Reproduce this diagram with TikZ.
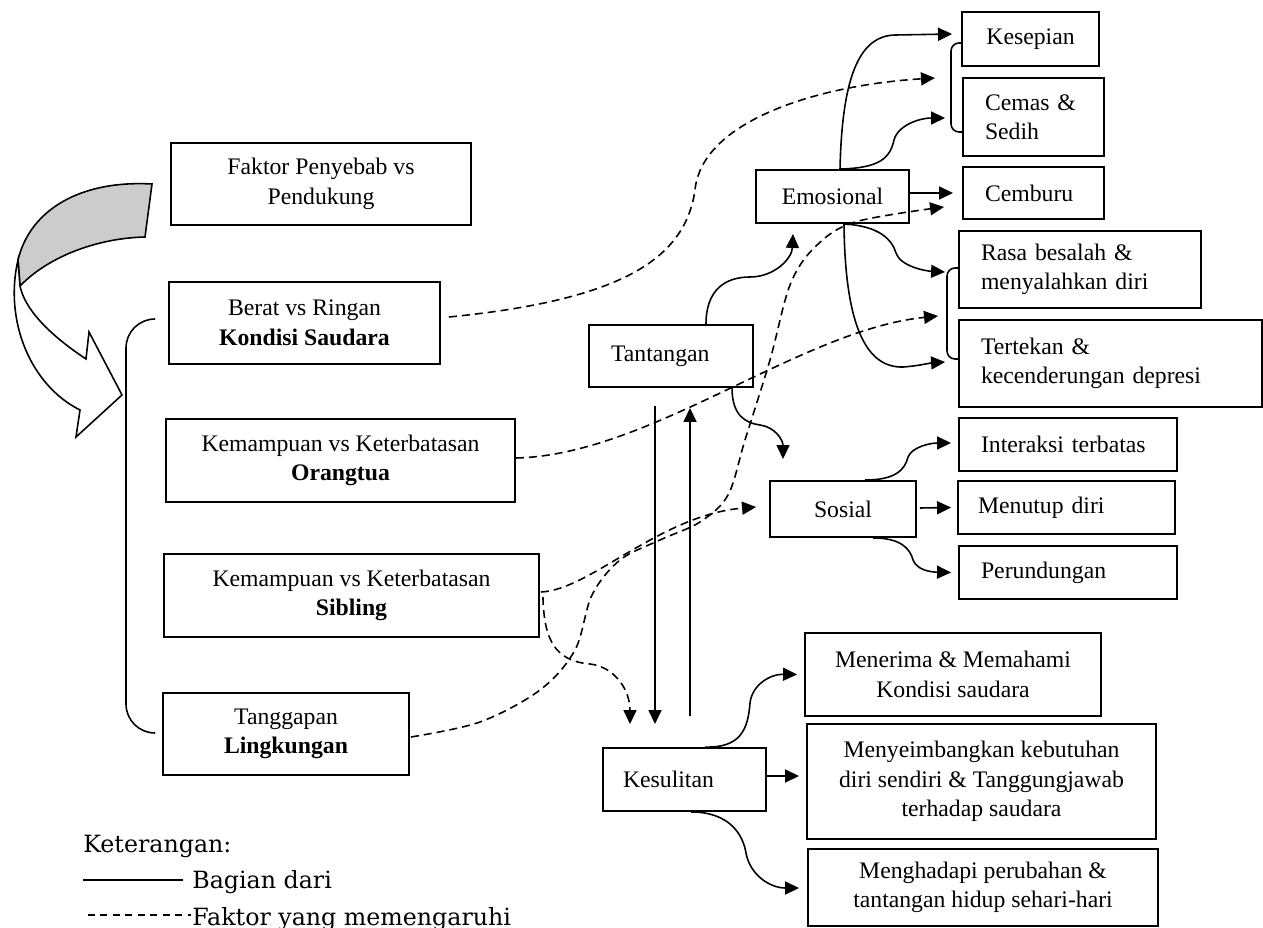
\documentclass[tikz,border=0pt]{standalone}
\usepackage{fontspec}
\setmainfont{Liberation Serif}
\newfontfamily\legfont{DejaVu Serif}
\usetikzlibrary{arrows.meta,calc}
\tikzset{
  box/.style={draw, line width=1.1pt, inner sep=0pt, align=center, font=\fontsize{13.5}{16.8}\selectfont},
  lbox/.style={box, align=left, inner xsep=0.44cm},
  conn/.style={line width=0.9pt, -{Triangle[length=0.28cm,width=0.26cm]}},
  dconn/.style={conn, dash pattern=on 0.16cm off 0.1cm},
  brk/.style={line width=0.9pt},
  leg/.style={inner sep=0pt, font=\legfont\fontsize{13.5}{16}\selectfont},
}
\begin{document}
\begin{tikzpicture}[x=0.02cm, y=-0.02cm]
\useasboundingbox (0,0) rectangle (1263,928);

% big curved arrow
\filldraw[line width=0.9pt, fill=gray!40] (152,184) .. controls (80,180) and (30,210) .. (18,260) -- (20,286) .. controls (50,255) and (100,238) .. (145,237) -- cycle;
\filldraw[line width=0.9pt, fill=white] (18,260) .. controls (4,320) and (30,385) .. (80,410) -- (76,437) -- (122,395) -- (89,332) -- (86,359) .. controls (50,335) and (25,310) .. (20,286) -- cycle;

% left boxes
\node[box, minimum width=6.0cm, minimum height=1.64cm] (faktor) at (321,184) {Faktor Penyebab vs\\Pendukung};
\node[box, minimum width=5.42cm, minimum height=1.64cm] (berat) at (304.5,323) {Berat vs Ringan\\\textbf{Kondisi Saudara}};
\node[box, minimum width=6.98cm, minimum height=1.66cm] (ortu) at (340.5,460.5) {Kemampuan vs Keterbatasan\\\textbf{Orangtua}};
\node[box, minimum width=7.5cm, minimum height=1.66cm] (sib) at (351.5,595.5) {Kemampuan vs Keterbatasan\\\textbf{Sibling}};
\node[box, minimum width=4.92cm, minimum height=1.64cm] (tang) at (286,734) {Tanggapan\\\textbf{Lingkungan}};

% left bracket
\draw[brk, rounded corners=0.58cm] (155,319) -- (126,319) -- (126,733) -- (155,733);

% middle boxes
\node[lbox, text width=2.4cm, minimum height=1.24cm] (tant) at (671,356) {Tantangan};
\node[box, minimum width=3.06cm, minimum height=1.06cm] (emo) at (832.5,196.5) {Emosional};
\node[box, minimum width=2.92cm, minimum height=1.12cm] (sos) at (843,509) {Sosial};
\node[lbox, inner xsep=0.4cm, text width=2.46cm, minimum height=1.26cm] (kesul) at (684.5,779.5) {Kesulitan};

% right boxes
\node[box, minimum width=2.74cm, minimum height=1.08cm] (kesep) at (1030.5,39) {Kesepian};
\node[lbox, text width=1.94cm, minimum height=1.56cm] (cemas) at (1033.5,117) {Cemas \&\\Sedih};
\node[lbox, text width=1.94cm, minimum height=1.04cm] (cembu) at (1033.5,193) {Cemburu};
\node[lbox, text width=3.96cm, minimum height=1.54cm] (rasa) at (1080,269.5) {Rasa besalah \&\\menyalahkan diri};
\node[lbox, text width=5.18cm, minimum height=1.74cm] (terte) at (1110.5,363.5) {Tertekan \&\\kecenderungan depresi};
\node[lbox, text width=3.48cm, minimum height=1.06cm] (inter) at (1068,444.5) {Interaksi terbatas};
\node[lbox, inner xsep=0.4cm, text width=3.54cm, minimum height=1.06cm] (menut) at (1066.5,507.5) {Menutup diri};
\node[lbox, text width=3.48cm, minimum height=1.06cm] (perun) at (1068,572.5) {Perundungan};
\node[box, minimum width=5.92cm, minimum height=1.66cm] (mener) at (953,674.5) {Menerima \& Memahami\\Kondisi saudara};
\node[box, minimum width=6.98cm, minimum height=2.3cm] (menye) at (981.5,781.5) {Menyeimbangkan kebutuhan\\diri sendiri \& Tanggungjawab\\terhadap saudara};
\node[box, minimum width=7.0cm, minimum height=1.54cm] (mengh) at (983,887.5) {Menghadapi perubahan \&\\tantangan hidup sehari-hari};

% right brackets
\coordinate (br1) at (951,87.5);
\coordinate (br2) at (947,313.5);
\draw[brk, rounded corners=0.16cm] (962,43) -- (951,43) -- (951,132) -- (963,132);
\draw[brk, rounded corners=0.16cm] (959,268) -- (947,268) -- (947,359) -- (959,359);

% Emosional outputs
\draw[conn] ($(emo.north)+(7.5,0)$) .. controls (842,80) and (858,35) .. (896,35) -- ($(kesep.west)+(-9,-5)$);
\draw[conn] ($(emo.north)+(7.5,0)$) .. controls (880,168) and (890,158) .. (894,140) .. controls (898,125) and (920,118) .. ($(cemas.west)+(-17,1)$);
\draw[conn] ($(emo.east)+(0,-3.5)$) -- ($(cembu.west)+(-9,0)$);
\draw[conn] ($(emo.south)+(11.5,0)$) .. controls (880,226) and (892,240) .. (896,253) .. controls (900,266) and (925,271) .. ($(rasa.west)+(-13,2.5)$);
\draw[conn] ($(emo.south)+(11.5,0)$) .. controls (845,330) and (868,368) .. (903,367) .. controls (918,366) and (930,363) .. ($(terte.west)+(-13,-1.5)$);

% Tantangan outputs
\draw[conn] ($(tant.north)+(35,0)$) .. controls (706,290) and (725,277) .. (750,277) .. controls (775,277) and (792,258) .. ($(emo.south)+(-39.5,10)$);
\draw[conn] ($(tant.south)+(61,0)$) .. controls (732,415) and (745,423) .. (760,425) .. controls (775,427) and (783,440) .. ($(sos.north)+(-60,-21)$);

% Tantangan <-> Kesulitan
\draw[conn] ($(tant.south)+(-16,18)$) -- ($(kesul.north)+(-29.5,-23)$);
\draw[conn] ($(kesul.north)+(5.5,-31)$) -- ($(tant.south)+(19,20)$);

% Kesulitan outputs
\draw[conn] ($(kesul.north)+(20.5,0)$) .. controls (740,748) and (748,730) .. (750,703) .. controls (752,685) and (770,674) .. ($(mener.west)+(-7,0)$);
\draw[conn] ($(kesul.east)+(0,-3.5)$) -- ($(menye.west)+(-7,-5.5)$);
\draw[conn] ($(kesul.south)+(6.5,0)$) .. controls (730,812) and (743,835) .. (746,853) .. controls (750,875) and (770,888) .. ($(mengh.west)+(-8,0.5)$);

% Sosial outputs
\draw[conn] ($(sos.north)+(22,0)$) .. controls (895,480) and (905,470) .. (908,457) .. controls (912,447) and (930,443) .. ($(inter.west)+(-7,-1.5)$);
\draw[conn] ($(sos.east)+(3,-1)$) -- ($(menut.west)+(-6,0)$);
\draw[conn] ($(sos.south)+(30,0)$) .. controls (900,538) and (910,548) .. (913,560) .. controls (917,570) and (930,572) .. ($(perun.west)+(-7,0)$);

% dashed influences
\draw[dconn] ($(berat.east)+(8,-6)$) .. controls (620,300) and (685,260) .. (695,190) .. controls (702,120) and (820,85) .. ($(br1)+(-16,-9.5)$);
\draw[dconn] ($(ortu.east)+(0,-2.5)$) .. controls (650,455) and (800,330) .. ($(br2)+(-9,2.5)$);
\draw[dconn] ($(sib.east)+(1,-3.5)$) .. controls (590,590) and (660,515) .. ($(sos.west)+(-13,-2)$);
\draw[dconn] ($(sib.east)+(3,1.5)$) .. controls (544,640) and (555,661) .. (590,664) .. controls (615,667) and (630,690) .. ($(kesul.north)+(-54.5,-23)$);
\coordinate (tgS) at ($(tang.east)+(1,3)$);
\coordinate (tgE) at ($(cembu.west)+(-18,14)$);
\draw[dconn] plot[smooth, tension=0.55] coordinates {(tgS) (480,722) (540,690) (575,650) (592,595) (620,560) (660,540) (700,522) (728,495) (745,440) (770,360) (790,285) (815,247) (855,222) (tgE)};

% legend
\node[leg, anchor=base west] (leg0) at (83,852) {Keterangan:};
\node[leg, anchor=base west] (leg1) at (192,888) {Bagian dari};
\node[leg, anchor=base west] (leg2) at (192,925) {Faktor yang memengaruhi};
\coordinate (lgA) at (83,880);
\coordinate (lgB) at (88,915);
\draw[line width=0.8pt] (lgA) -- ++(100,0);
\draw[line width=0.7pt, dash pattern=on 0.14cm off 0.11cm] (lgB) -- ++(103,0);
\end{tikzpicture}
\end{document}
